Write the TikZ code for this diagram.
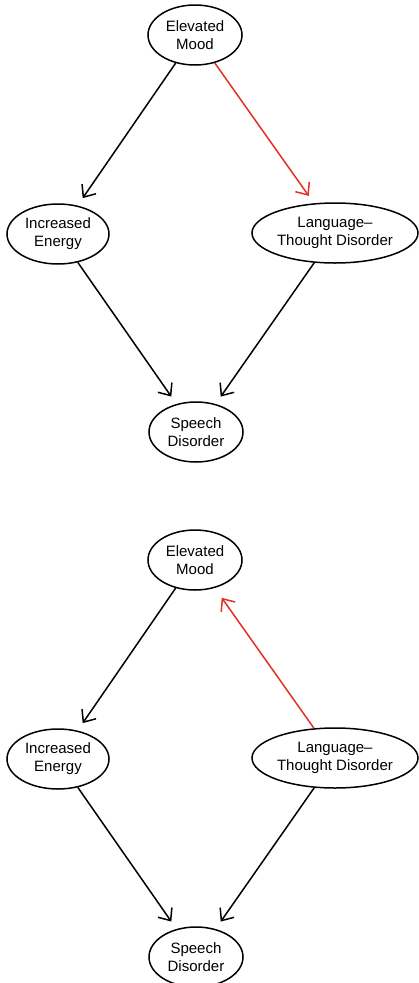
\documentclass[tikz,border=0pt]{standalone}
\usepackage{fontspec}
\setmainfont{Liberation Sans}
\usetikzlibrary{shapes.geometric,arrows.meta}
\definecolor{arrred}{RGB}{226,48,36}
\tikzset{
  var/.style={ellipse,draw,line width=1.5pt,inner sep=0pt,minimum height=60pt,align=center,
    font=\fontsize{15}{18}\selectfont},
  link/.style={line width=1.5pt,-{Straight Barb[length=10pt,width=17pt,line width=1.5pt]},shorten >=9pt},
  redlink/.style={link,draw=arrred}
}
\begin{document}
\begin{tikzpicture}[x=1pt,y=-1pt]
\useasboundingbox (0,0) rectangle (419,983);
% top diagram
\node[var,minimum width=94pt] (em1) at (195,35) {Elevated\\Mood};
\node[var,minimum width=102pt] (ie1) at (58,234) {Increased\\Energy};
\node[var,minimum width=166pt] (lt1) at (335,233) {Language–\\Thought Disorder};
\node[var,minimum width=94pt] (sd1) at (196,432) {Speech\\Disorder};
\draw[link] (em1) -- (ie1);
\draw[redlink] (em1) -- (lt1);
\draw[link] (ie1) -- (sd1);
\draw[link] (lt1) -- (sd1);
% bottom diagram
\node[var,minimum width=94pt] (em2) at (195,560) {Elevated\\Mood};
\node[var,minimum width=102pt] (ie2) at (58,759) {Increased\\Energy};
\node[var,minimum width=166pt] (lt2) at (335,758) {Language–\\Thought Disorder};
\node[var,minimum width=94pt] (sd2) at (196,957) {Speech\\Disorder};
\draw[link] (em2) -- (ie2);
\draw[redlink,shorten >=12pt] (lt2) -- (em2);
\draw[link] (ie2) -- (sd2);
\draw[link] (lt2) -- (sd2);
\end{tikzpicture}
\end{document}
